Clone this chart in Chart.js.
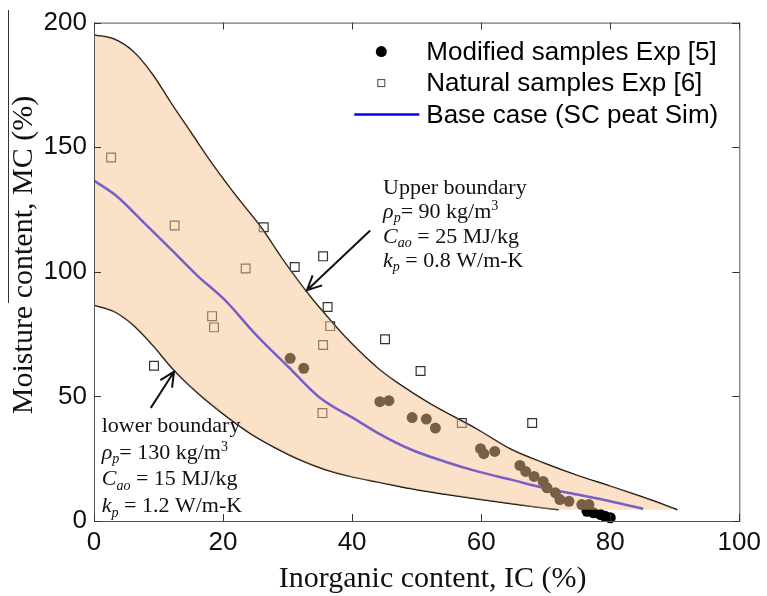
<!DOCTYPE html>
<html><head><meta charset="utf-8">
<script src="https://cdn.jsdelivr.net/npm/chart.js@4.4.1/dist/chart.umd.min.js"></script>
<style>html,body{margin:0;padding:0;background:#fff;}</style>
</head><body>
<canvas id="c" width="767" height="596"></canvas>
<script>
// ---- data ----
const xTicks = [0, 20, 40, 60, 80, 100];
const yTicks = [0, 50, 100, 150, 200];

const upperIC = [0, 3, 6, 9, 12, 15, 18.3, 22, 26, 29.1, 33.7, 36, 39.4, 44, 47.1, 52, 59.4, 64.6, 69.7, 74.9, 80, 84.1, 87.5, 90.4];
const upperMC = [195, 193.5, 188.6, 179.5, 167.5, 156, 143.4, 130.5, 117.5, 105.5, 89.5, 82.5, 72.6, 61.3, 55.3, 47.2, 36.8, 28.8, 23.3, 18.3, 14.0, 10.4, 7.3, 4.5];

const lowerIC = [0, 3, 6, 9, 12.4, 16, 20, 24, 28, 31.7, 36, 40, 44, 50, 55, 59.4, 65, 72];
const lowerMC = [86.6, 84.2, 78.8, 70.8, 60.5, 51.5, 43, 35.5, 29.5, 24.8, 20.5, 17.7, 15.6, 12.5, 10.5, 8.8, 6.8, 4.5];

const floorIC = [90.4];
const floorMC = [4.5];

const baseIC = [0, 3.4, 8, 12.1, 16, 20.3, 25, 30.1, 34.8, 40.9, 44, 49.2, 54.3, 59.4, 64.6, 69.7, 74.9, 80, 85.1];
const baseMC = [136.6, 130.6, 119, 108.6, 98.5, 88.6, 75, 61.9, 49.9, 40.2, 35.3, 28.6, 23.9, 19.9, 16.6, 13.3, 10.6, 7.9, 4.9];

const modIC = [30.4, 32.5, 44.3, 45.7, 49.3, 51.5, 52.9, 59.9, 60.4, 62.1, 66.0, 66.9, 68.2, 69.6, 70.2, 71.5, 72.2, 73.6, 75.6, 76.7, 76.4, 77.4, 78.5, 79.2, 80.0];
const modMC = [65.3, 61.3, 47.9, 48.3, 41.5, 40.9, 37.3, 29.0, 27.0, 27.9, 22.3, 19.9, 17.9, 15.9, 13.3, 11.3, 8.6, 7.9, 6.6, 6.6, 3.9, 3.3, 2.6, 1.9, 1.3];

const natIC = [2.65, 12.5, 26.3, 23.5, 31.1, 35.5, 18.3, 18.6, 9.3, 36.2, 36.6, 35.5, 35.4, 45.1, 50.6, 57.0, 67.9];
const natMC = [145.9, 118.6, 117.9, 101.3, 101.9, 106.2, 82.2, 77.7, 62.3, 85.9, 78.2, 70.6, 43.3, 72.9, 60.2, 39.3, 39.3];

const seriesNames = ['Modified samples Exp [5]', 'Natural samples Exp [6]', 'Base case (SC peat Sim)'];
const xTitle = 'Inorganic content, IC (%)';
const yTitle = 'Moisture content, MC (%)';

// note lines: [text, style]  n=normal, i=italic, s=italic subscript, u=superscript
const upperNote = [
  [['Upper boundary', 'n']],
  [['\u03C1', 'i'], ['p', 's'], ['= 90 kg/m', 'n'], ['3', 'u']],
  [['C', 'i'], ['ao', 's'], [' = 25 MJ/kg', 'n']],
  [['k', 'i'], ['p', 's'], [' = 0.8 W/m-K', 'n']]
];
const lowerNote = [
  [['lower boundary', 'n']],
  [['\u03C1', 'i'], ['p', 's'], ['= 130 kg/m', 'n'], ['3', 'u']],
  [['C', 'i'], ['ao', 's'], [' = 15 MJ/kg', 'n']],
  [['k', 'i'], ['p', 's'], [' = 1.2 W/m-K', 'n']]
];
const upperNoteAt = [44.8, 131.4];
const lowerNoteAt = [1.2, 35.8];
const upperArrow = [[42.8, 116.6], [33.0, 92.6]];
const lowerArrow = [[8.8, 45.4], [12.4, 59.9]];

// ---- build ----
const pts = (xs, ys) => xs.map((x, i) => ({x: x, y: ys[i]}));
const SERIF = '"Liberation Serif", "Times New Roman", serif';
const SANS = '"Liberation Sans", Arial, sans-serif';

function drawRich(ctx, segs, x, y, size) {
  let cx = x;
  for (const [t, st] of segs) {
    const small = (st === 's' || st === 'u');
    const fs = small ? Math.round(size * 0.64) : size;
    ctx.font = ((st === 'i' || st === 's') ? 'italic ' : '') + fs + 'px ' + SERIF;
    const dy = st === 's' ? size * 0.2 : (st === 'u' ? -size * 0.36 : 0);
    ctx.fillText(t, cx, y + dy);
    cx += ctx.measureText(t).width;
  }
}
function arrow(ctx, x1, y1, x2, y2) {
  const a = Math.atan2(y2 - y1, x2 - x1), L = 16, w = 0.45;
  ctx.beginPath();
  ctx.moveTo(x1, y1); ctx.lineTo(x2, y2);
  ctx.moveTo(x2 - L * Math.cos(a - w), y2 - L * Math.sin(a - w));
  ctx.lineTo(x2, y2);
  ctx.lineTo(x2 - L * Math.cos(a + w), y2 - L * Math.sin(a + w));
  ctx.stroke();
}

const decor = {
  id: 'decor',
  afterDraw(chart) {
    const {ctx, chartArea: a, scales: {x, y}} = chart;
    ctx.save();
    // frame
    ctx.strokeStyle = '#555'; ctx.lineWidth = 1;
    ctx.strokeRect(a.left + 0.5, a.top + 0.5, a.right - a.left, a.bottom - a.top);
    // inward ticks
    ctx.strokeStyle = '#333';
    ctx.beginPath();
    xTicks.forEach(v => {
      const px = Math.round(x.getPixelForValue(v)) + 0.5;
      ctx.moveTo(px, a.bottom); ctx.lineTo(px, a.bottom - 7);
      ctx.moveTo(px, a.top); ctx.lineTo(px, a.top + 7);
    });
    yTicks.forEach(v => {
      const py = Math.round(y.getPixelForValue(v)) + 0.5;
      ctx.moveTo(a.left, py); ctx.lineTo(a.left + 7, py);
      ctx.moveTo(a.right, py); ctx.lineTo(a.right - 7, py);
    });
    ctx.stroke();
    // axis titles
    ctx.fillStyle = '#111';
    ctx.font = '30px ' + SERIF;
    ctx.textAlign = 'center'; ctx.textBaseline = 'alphabetic';
    ctx.fillText(xTitle, (a.left + a.right) / 2 + 16, 587);
    ctx.save();
    ctx.translate(32, 255); ctx.rotate(-Math.PI / 2);
    ctx.fillText(yTitle, 0, 0);
    ctx.restore();
    // thin rule beside y title (as in reference)
    ctx.strokeStyle = '#333'; ctx.lineWidth = 1;
    ctx.beginPath(); ctx.moveTo(8.5, 10); ctx.lineTo(8.5, 303); ctx.stroke();
    // legend
    const tx = a.right - 313, ty0 = a.top + 29, dy = 31.5;
    ctx.textAlign = 'left'; ctx.textBaseline = 'middle';
    ctx.font = '26px ' + SANS; ctx.fillStyle = '#000';
    seriesNames.forEach((s, i) => ctx.fillText(s, tx, ty0 + i * dy + 1));
    ctx.beginPath(); ctx.arc(tx - 45, ty0, 5.5, 0, Math.PI * 2); ctx.fill();
    ctx.strokeStyle = '#444'; ctx.lineWidth = 1;
    ctx.strokeRect(tx - 48.5, ty0 + dy - 3.5, 7, 7);
    ctx.strokeStyle = '#0000ff'; ctx.lineWidth = 2.5;
    ctx.beginPath(); ctx.moveTo(tx - 72, ty0 + 2 * dy); ctx.lineTo(tx - 7, ty0 + 2 * dy); ctx.stroke();
    // notes
    ctx.fillStyle = '#111'; ctx.textBaseline = 'alphabetic';
    const ux = x.getPixelForValue(upperNoteAt[0]), uy = y.getPixelForValue(upperNoteAt[1]);
    upperNote.forEach((ln, i) => drawRich(ctx, ln, ux, uy + i * 24.5, 22));
    const lx = x.getPixelForValue(lowerNoteAt[0]), ly = y.getPixelForValue(lowerNoteAt[1]);
    lowerNote.forEach((ln, i) => drawRich(ctx, ln, lx, ly + i * 26.8, 22));
    // arrows
    ctx.strokeStyle = '#111'; ctx.lineWidth = 2;
    [upperArrow, lowerArrow].forEach(([f, t]) => arrow(ctx,
      x.getPixelForValue(f[0]), y.getPixelForValue(f[1]),
      x.getPixelForValue(t[0]), y.getPixelForValue(t[1])));
    ctx.restore();
  }
};

new Chart(document.getElementById('c'), {
  type: 'scatter',
  data: {
    datasets: [
      { label: 'band', data: pts(upperIC, upperMC), showLine: true, borderWidth: 0, pointRadius: 0,
        cubicInterpolationMode: 'monotone', backgroundColor: 'rgba(245,194,143,0.49)',
        fill: {target: 1}, order: 0 },
      { label: 'bandFloor', data: pts(lowerIC.concat(floorIC), lowerMC.concat(floorMC)), showLine: true,
        borderWidth: 0, pointRadius: 0, cubicInterpolationMode: 'monotone', fill: false, order: 9 },
      { label: seriesNames[0], data: pts(modIC, modMC), pointStyle: 'circle', pointRadius: 5.5,
        backgroundColor: '#000', borderColor: '#000', borderWidth: 0, clip: 12, order: 2 },
      { label: seriesNames[1], data: pts(natIC, natMC), pointStyle: 'rect', pointRadius: 6.2,
        backgroundColor: 'rgba(0,0,0,0)', borderColor: '#333', borderWidth: 1.2, clip: 12, order: 2 },
      { label: seriesNames[2], data: pts(baseIC, baseMC), showLine: true, pointRadius: 0,
        borderColor: '#0000ff', borderWidth: 2.5, cubicInterpolationMode: 'monotone', order: 3 },
      { label: 'upper', data: pts(upperIC, upperMC), showLine: true, pointRadius: 0,
        borderColor: '#000', borderWidth: 1.5, cubicInterpolationMode: 'monotone', order: 4 },
      { label: 'lower', data: pts(lowerIC, lowerMC), showLine: true, pointRadius: 0,
        borderColor: '#000', borderWidth: 1.5, cubicInterpolationMode: 'monotone', order: 4 }
    ]
  },
  options: {
    responsive: false, animation: false, devicePixelRatio: 1,
    layout: { padding: { top: 21, right: 24, left: 0, bottom: 0 } },
    plugins: { legend: { display: false }, tooltip: { enabled: false } },
    events: [],
    scales: {
      x: { type: 'linear', min: 0, max: 100,
        afterFit: s => { s.height = 75; },
        afterBuildTicks: s => { s.ticks = xTicks.map(v => ({value: v})); },
        ticks: { font: { family: SANS, size: 26 }, color: '#111', padding: 6, maxRotation: 0, autoSkip: false },
        grid: { display: false, drawTicks: false }, border: { display: false } },
      y: { type: 'linear', min: 0, max: 200,
        afterFit: s => { s.width = 94; },
        afterBuildTicks: s => { s.ticks = yTicks.map(v => ({value: v})); },
        ticks: { font: { family: SANS, size: 26 }, color: '#111', padding: 7, autoSkip: false },
        grid: { display: false, drawTicks: false }, border: { display: false } }
    }
  },
  plugins: [decor]
});
</script>
</body></html>
